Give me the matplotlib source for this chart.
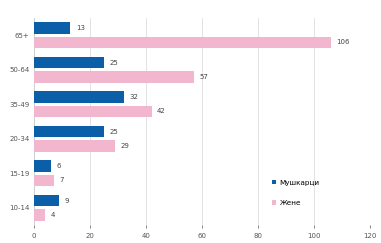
import numpy as np
import matplotlib
matplotlib.use("Agg")
import matplotlib.pyplot as plt

groups = ["65+", "50-64", "35-49", "20-34", "15-19", "10-14"]
men = [13, 25, 32, 25, 6, 9]
women = [106, 57, 42, 29, 7, 4]
labels = ["Мушкарци", "Жене"]

fig = plt.figure(figsize=(3.81, 2.43), dpi=100)
ax = fig.add_axes([0.089, 0.074, 0.882, 0.852])

y = np.arange(len(groups))
h = 0.33
b1 = ax.barh(y - h / 2 - 0.04, men, height=h, color="#0b5ea8", label=labels[0], zorder=3)
b2 = ax.barh(y + h / 2 + 0.04, women, height=h, color="#f2b6cf", label=labels[1], zorder=3)

for bars in (b1, b2):
    for r in bars:
        ax.text(r.get_width() + 2, r.get_y() + r.get_height() / 2, str(int(r.get_width())),
                va="center", ha="left", fontsize=5, color="#444444")

ax.set_yticks(y)
ax.set_yticklabels(groups, fontsize=5, color="#555555")
ax.set_ylim(len(groups) - 0.5, -0.5)
ax.set_xlim(0, 120)
ax.set_xticks(range(0, 121, 20))
ax.tick_params(axis="x", labelsize=5, colors="#555555", length=2, width=0.5)
ax.tick_params(axis="y", length=0, pad=3)
ax.grid(axis="x", color="#dddddd", linewidth=0.6, zorder=0)
for s in ["top", "right", "bottom"]:
    ax.spines[s].set_visible(False)
ax.spines["left"].set_color("#cccccc")
ax.spines["left"].set_linewidth(0.6)

ax.legend(loc="lower right", bbox_to_anchor=(0.87, 0.06), frameon=False, fontsize=5.2,
          handlelength=0.6, handleheight=0.6, labelspacing=2.0, handletextpad=0.5)

fig.savefig("out.png", dpi=100)
